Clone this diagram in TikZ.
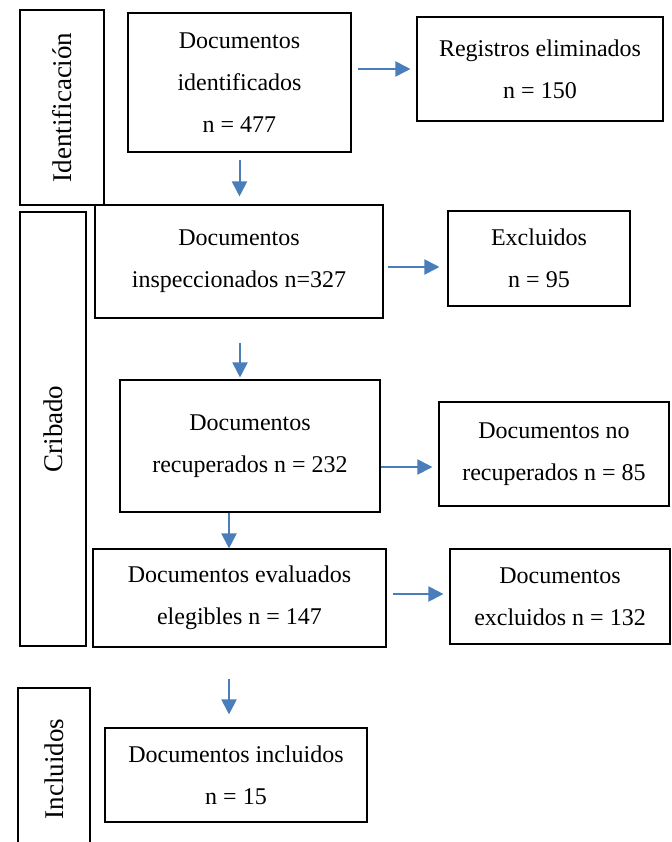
\documentclass[tikz,border=0pt]{standalone}
\usepackage{fontspec}
\setmainfont{Liberation Serif}
\usetikzlibrary{arrows.meta}
\definecolor{arrblue}{HTML}{4A7EBB}
\begin{document}
\begin{tikzpicture}[x=1pt,y=-1pt,
  box/.style={draw=black, line width=1.1pt, rectangle, inner sep=0pt, align=center,
    font=\fontsize{24}{42}\selectfont},
  side/.style={box, rotate=90, font=\fontsize{27}{32}\selectfont},
  arr/.style={draw=arrblue, line width=2pt, -{Triangle[length=15pt,width=15pt]}}]
\useasboundingbox (0,0) rectangle (671,842);
\clip (0,0) rectangle (671,842);
% side phase boxes
\node[side, minimum width=195pt, minimum height=84pt] (sideid) at (62,107.5) {Identificación};
\node[side, minimum width=434pt, minimum height=66pt] (sidecr) at (53,429) {Cribado};
\node[side, minimum width=162pt, minimum height=72pt] (sidein) at (54,769) {Incluidos};
% main column
\node[box, minimum width=223pt, minimum height=139pt] (ident) at (239.5,82.5) {Documentos\\identificados\\n = 477};
\node[box, minimum width=288pt, minimum height=113pt] (insp) at (239,261.5) {Documentos\\inspeccionados n=327};
\node[box, minimum width=260pt, minimum height=132pt] (recup) at (250,446) {Documentos\\recuperados n = 232};
\node[box, minimum width=293pt, minimum height=98pt] (eval) at (239.5,598) {Documentos evaluados\\elegibles n = 147};
\node[box, minimum width=262pt, minimum height=94pt] (incl) at (236,775) {Documentos incluidos\\n = 15};
% right column
\node[box, minimum width=246pt, minimum height=104pt] (reg) at (540,69) {Registros eliminados\\n = 150};
\node[box, minimum width=182pt, minimum height=95pt] (excl) at (539,258.5) {Excluidos\\n = 95};
\node[box, minimum width=230pt, minimum height=104pt] (norec) at (554,454) {Documentos no\\recuperados n = 85};
\node[box, minimum width=220pt, minimum height=95pt] (exc132) at (560,596.5) {Documentos\\excluidos n = 132};
% vertical arrows
\draw[arr, shorten <=7pt, shorten >=8pt] (ident.south) -- (ident.south |- insp.north);
\draw[arr, shorten <=24pt, shorten >=2pt] ([xshift=1pt]insp.south) -- ([xshift=1pt]insp.south |- recup.north);
\draw[arr] ([xshift=-21pt]recup.south) -- ([xshift=-21pt]recup.south |- eval.north);
\draw[arr, shorten <=31pt, shorten >=13pt] ([xshift=-10.5pt]eval.south) -- ([xshift=-10.5pt]eval.south |- incl.north);
% horizontal arrows
\draw[arr, shorten <=6pt, shorten >=6pt] (ident.east |- reg.west) -- (reg.west);
\draw[arr, shorten <=4pt, shorten >=8pt] ([yshift=-5.5pt]insp.east) -- ([yshift=-5.5pt]insp.east -| excl.west);
\draw[arr, shorten >=6pt] ([yshift=-21pt]recup.east) -- ([yshift=-21pt]recup.east -| norec.west);
\draw[arr, shorten <=6pt, shorten >=6pt] ([yshift=4pt]eval.east) -- ([yshift=4pt]eval.east -| exc132.west);
\end{tikzpicture}
\end{document}
